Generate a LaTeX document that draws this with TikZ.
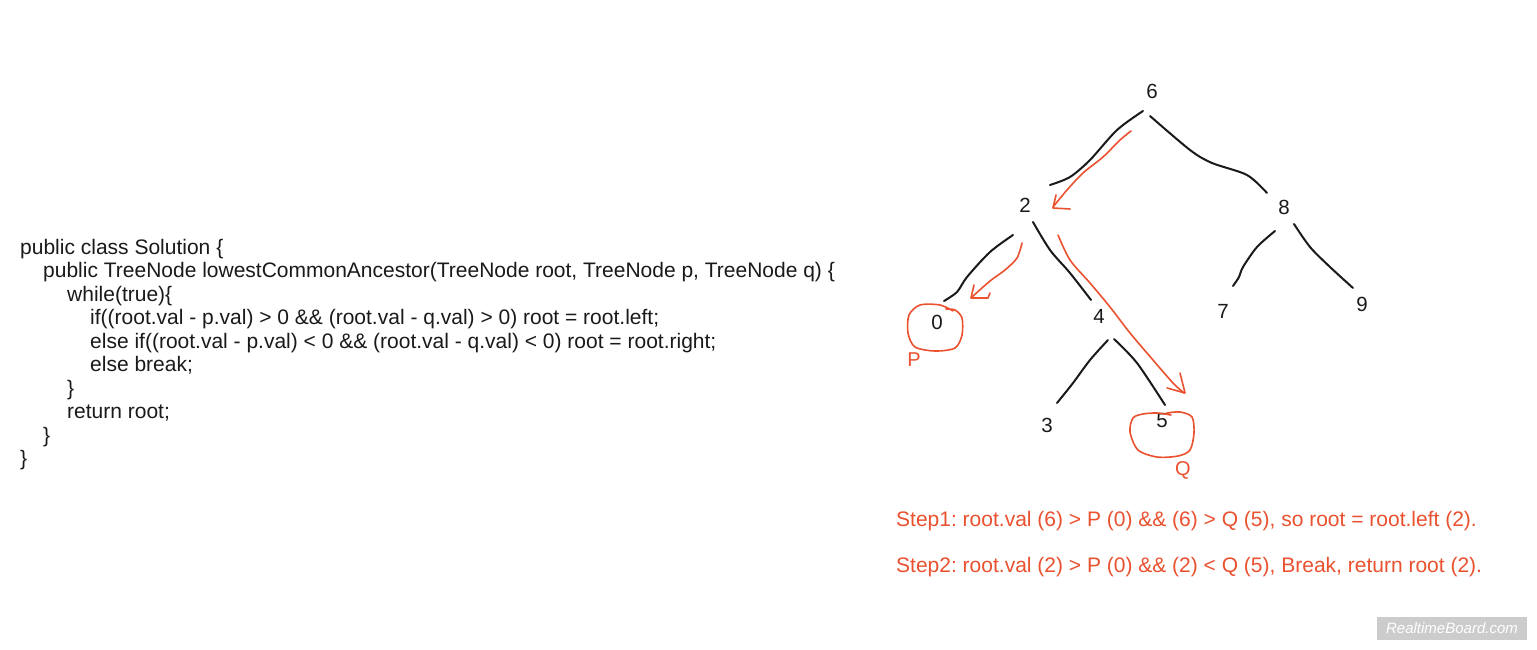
\documentclass[tikz,border=0pt]{standalone}
\usepackage{fontspec}
\setmainfont{Liberation Sans}
\frenchspacing
\definecolor{hand}{HTML}{E9512F}
\definecolor{ink}{HTML}{1A1A1A}
\definecolor{wm}{HTML}{CCCCCC}
\tikzset{
  codeline/.style={anchor=base west, inner sep=0pt, font=\fontsize{21}{23}\selectfont, text=ink},
  digit/.style={inner sep=0pt, font=\fontsize{20.5}{22}\selectfont, text=ink},
  redlabel/.style={inner sep=0pt, font=\fontsize{20}{22}\selectfont, text=hand},
  steptext/.style={anchor=base west, inner sep=0pt, font=\fontsize{21}{23}\selectfont, text=hand},
  branch/.style={draw=ink, line width=2pt, line cap=round},
  redpen/.style={draw=hand, line width=1.6pt, line cap=round, line join=round},
}
\begin{document}
\begin{tikzpicture}[x=1pt,y=-1pt]
\useasboundingbox (0,0) rectangle (1537,650);
\fill[white] (0,0) rectangle (1537,650);
% code
\node[codeline] (c1) at (20,254) {public class Solution \{};
\node[codeline] (c2) at (43,277.5) {public TreeNode lowestCommonAncestor(TreeNode root, TreeNode p, TreeNode q) \{};
\node[codeline] (c3) at (67,301) {while(true)\{};
\node[codeline] (c4) at (90,324.5) {if((root.val - p.val) > 0 \&\& (root.val - q.val) > 0) root = root.left;};
\node[codeline] (c5) at (90,348) {else if((root.val - p.val) < 0 \&\& (root.val - q.val) < 0) root = root.right;};
\node[codeline] (c6) at (90,371.5) {else break;};
\node[codeline] (c7) at (67,395) {\}};
\node[codeline] (c8) at (67,418.5) {return root;};
\node[codeline] (c9) at (43,442) {\}};
\node[codeline] (c10) at (20,465.5) {\}};
% tree digits
\node[digit] (n6) at (1152,91) {6};
\node[digit] (n2) at (1025,205) {2};
\node[digit] (n8) at (1284,207) {8};
\node[digit] (n0) at (937,322) {0};
\node[digit] (n4) at (1099,316) {4};
\node[digit] (n7) at (1223,311) {7};
\node[digit] (n9) at (1362,304) {9};
\node[digit] (n3) at (1047,425) {3};
\node[digit] (n5) at (1162,421) {5};
% branches
\draw[branch] plot[smooth] coordinates {(1143,111) (1117,130) (1090,160) (1070,177) (1050,185)};
\draw[branch] plot[smooth] coordinates {(1150,116) (1190,150) (1212,163) (1247,175) (1267,193)};
\draw[branch] plot[smooth] coordinates {(1013,235) (990,252) (967,277) (957,292) (944,301)};
\draw[branch] plot[smooth] coordinates {(1033,222) (1050,250) (1070,273) (1091,300)};
\draw[branch] plot[smooth] coordinates {(1108,340) (1090,360) (1073,383) (1057,403)};
\draw[branch] plot[smooth] coordinates {(1114,339) (1137,363) (1165,405)};
\draw[branch] plot[smooth] coordinates {(1275,231) (1257,247) (1243,267) (1239,277) (1233,286)};
\draw[branch] plot[smooth] coordinates {(1294,224) (1310,247) (1330,267) (1353,288)};
% red arrows
\draw[redpen] plot[smooth] coordinates {(1131,131) (1120,140) (1103,157) (1083,173) (1067,190) (1053,207)};
\draw[redpen] (1056,195) -- (1053,208) -- (1070,209);
\draw[redpen] plot[smooth] coordinates {(1022,243) (1017,258) (1005,270) (990,281) (972,297)};
\draw[redpen] (974,285) -- (971,298) -- (988,298) -- (990,293);
\draw[redpen] plot[smooth] coordinates {(1058,235) (1070,260) (1090,283) (1110,307) (1130,333) (1153,360) (1173,383) (1184,393)};
\draw[redpen] (1180,373) -- (1185,393) -- (1167,388);
% red loops
\draw[redpen] plot[smooth] coordinates {(953,311) (940,305) (920,305) (909,315) (908,333) (915,347) (935,351) (955,348) (962,335) (962,318) (955,310) (946,309)};
\draw[redpen] plot[smooth] coordinates {(1167,413) (1180,412) (1192,417) (1194,433) (1190,450) (1178,456) (1157,457) (1138,450) (1130,432) (1133,418) (1143,414) (1157,413) (1171,415)};
\node[redlabel] (lp) at (914,360) {P};
\node[redlabel] (lq) at (1183,470) {Q};
% step texts
\node[steptext] (s1) at (896,526.5) {Step1: root.val (6) > P (0) \&\& (6) > Q (5), so root = root.left (2).};
\node[steptext] (s2) at (896,572.5) {Step2: root.val (2) > P (0) \&\& (2) < Q (5), Break, return root (2).};
% watermark
\node[fill=wm, minimum width=150pt, minimum height=23pt, inner sep=0pt, text=white, font=\fontsize{15}{17}\selectfont\itshape] (wmk) at (1452,628.5) {RealtimeBoard.com};
\end{tikzpicture}
\end{document}
